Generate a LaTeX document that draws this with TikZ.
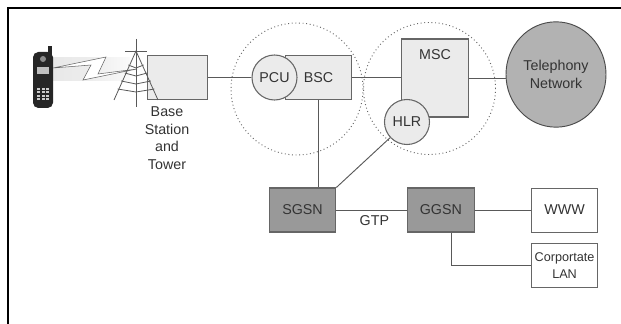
\documentclass[tikz,border=0pt]{standalone}
\usepackage{fontspec}
\setmainfont{Liberation Sans}
\usetikzlibrary{shapes.geometric, positioning}

\begin{document}
\begin{tikzpicture}[
        x=0.75pt, y=-0.75pt,
        every node/.style={font=\fontsize{10.7}{12}\selectfont, text=black!80, inner sep=0pt, anchor=center},
        link/.style={draw=black!65, line width=0.7pt},
        zone/.style={draw=black!60, circle, dotted, line width=0.7pt, minimum size=99pt},
        lightbox/.style={draw=black!60, fill=black!8, line width=0.8pt, minimum width=50pt, minimum height=33.5pt},
        lightround/.style={draw=black!60, fill=black!8, line width=0.8pt, circle, minimum size=33.75pt},
        darkbox/.style={draw=black!60, fill=black!40, line width=0.8pt, minimum width=50pt, minimum height=33pt},
        whitebox/.style={draw=black!60, fill=white, line width=0.7pt, minimum width=50pt, minimum height=33pt, align=center},
    ]
    \useasboundingbox (0,0) rectangle (621,324);

    % Frame
    \draw[line width=1.2pt] (8,324) -- (8,8) -- (621,8);

    % Zones
    \node[zone] (zoneleft) at (297,89) {};
    \node[zone] (zoneright) at (429.5,88.5) {};

    % Radio link
    \shade[left color=black!9, right color=black!2, middle color=black!7] (53,58) rectangle (130,81);
    \draw[black!60, fill=white, line width=0.4pt]
        (53,68) -- (106,57) -- (98,74) -- (137,69) -- (83,80) -- (91,65) -- cycle;

    % Phone
    \fill[black!85] (48,46) rectangle (52,56);
    \fill[black!85, rounded corners=4pt] (33,52) rectangle (53,108);
    \fill[black!45] (43,59) circle (3);
    \fill[black!25] (37,67) rectangle (49,74);
    \foreach \col in {38.5,43,47.5} {
        \foreach \row in {89,92.5,96,99.5} {
            \fill[black!20] (\col-1.5,\row-1) rectangle (\col+1.5,\row+1);
        }
    }

    % Base station
    \node[lightbox, minimum width=45pt] (bts) at (177.5,77.5) {};
    \foreach \rung in {68,76,84,92} {
        \draw[black!65, line width=0.6pt] (136-\rung*0.449+22.9,\rung-3) -- (136,\rung) -- (136+\rung*0.449-22.9,\rung-3);
    }
    \draw[black!65, line width=0.6pt] (136,39) -- (136,107);
    \draw[black!65, line width=0.6pt] (125,51) -- (147,51);
    \draw[black!65, line width=0.6pt] (114,100) -- (136,51) -- (158,100);
    \node[align=center, font=\fontsize{10.7}{13.1}\selectfont] (btslabel) at (167,138) {Base\\Station\\and\\Tower};

    % Core nodes
    \node[lightbox] (bsc) at (318.5,77.5) {\hspace*{0pt}BSC};
    \node[lightround] (pcu) at (274.5,77.5) {PCU};
    \node[lightbox, minimum height=58.5pt] (msc) at (435,78) {};
    \node[below=8pt of msc.north] (msclabel) {MSC};
    \node[lightround] (hlr) at (407,122) {HLR};
    \node[ellipse, draw=black!70, fill=black!30, line width=0.7pt, minimum width=75pt, minimum height=79pt, align=center, font=\fontsize{10.7}{13}\selectfont] (phonenet) at (556,74.5)
        {Telephony\\Network};

    % Lower row
    \node[darkbox] (sgsn) at (302.5,210) {SGSN};
    \node[darkbox, right=53pt of sgsn] (ggsn) {GGSN};
    \node[whitebox, right=42pt of ggsn] (www) {WWW};
    \node[whitebox, below=8pt of www, font=\fontsize{9.5}{12.5}\selectfont] (lan) {Corportate\\LAN};
    \coordinate (lanturn) at (451,265);

    % Links
    \draw[link] (bts.east) -- (pcu.west);
    \draw[link] (bsc.east) -- (msc.west |- bsc.east);
    \draw[link] (msc.east) -- (msc.east -| phonenet.west);
    \draw[link] (bsc.south) -- (bsc.south |- sgsn.north);
    \draw[link] (hlr) -- (sgsn.north east);
    \draw[link] (sgsn.east) -- node[below=4pt, xshift=2pt] (gtp) {GTP} (ggsn.west);
    \draw[link] (ggsn.east) -- (www.west);
    \draw[link] (lanturn |- ggsn.south) -- (lanturn) -- (lanturn -| lan.west);
\end{tikzpicture}
\end{document}
